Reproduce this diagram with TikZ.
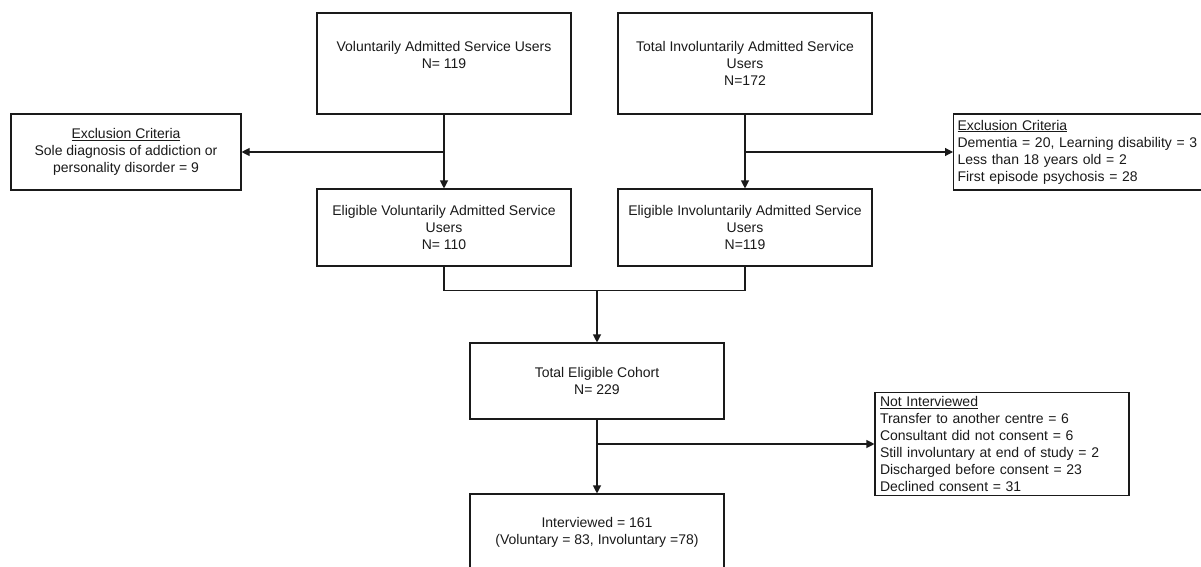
\documentclass[tikz,border=0pt]{standalone}
\usepackage{fontspec}
\setmainfont{Liberation Sans}
\usetikzlibrary{arrows.meta, positioning, calc}
\usepackage{xcolor}
\definecolor{cLine}{HTML}{1A1A1A}

\begin{document}
\begin{tikzpicture}[x=1pt, y=-1pt,
    box/.style={draw=cLine, line width=1.1pt, align=center, inner sep=3pt,
      text=cLine, font=\fontsize{14}{17}\selectfont, minimum width=254pt},
    listbox/.style={box, align=left, inner sep=4pt},
    arr/.style={draw=cLine, line width=1.1pt, -{Triangle[length=8pt, width=8pt]}},
    ln/.style={draw=cLine, line width=1.1pt}]
  \fill[white] (0,0) rectangle (1201,567);
  \useasboundingbox (0,0) rectangle (1201,567);
  \clip (0,0) rectangle (1201,567);

  % Admitted service users
  \node[box, minimum height=101pt] (vol) at (444,63.5)
    {Voluntarily Admitted Service Users\\N= 119\\~};
  \node[box, minimum height=101pt] (invol) at (745,63.5)
    {Total Involuntarily Admitted Service\\Users\\N=172};

  % Exclusions
  \node[box, minimum width=230pt, minimum height=76pt] (exclV) at (126,152)
    {\underline{Exclusion Criteria}\\Sole diagnosis of addiction or\\personality disorder = 9};
  \node[listbox, text width=250pt, minimum height=76pt, anchor=west] (exclI) at (953,152)
    {\underline{Exclusion Criteria}\\Dementia = 20, Learning disability = 3\\Less than 18 years old = 2\\First episode psychosis = 28};

  % Eligible users
  \node[box, minimum height=77pt] (eligV) at (444,227.5)
    {Eligible Voluntarily Admitted Service\\Users\\N= 110};
  \node[box, minimum height=77pt] (eligI) at (745,227.5)
    {Eligible Involuntarily Admitted Service\\Users\\N=119};

  % Cohort and interviews
  \node[box, minimum height=76pt] (cohort) at (597,381)
    {Total Eligible Cohort\\N= 229};
  \node[listbox, text width=244pt, minimum height=100pt] (notint) at (1002,444)
    {\underline{Not Interviewed}\\Transfer to another centre = 6\\Consultant did not consent = 6\\Still involuntary at end of study = 2\\Discharged before consent = 23\\Declined consent = 31};
  \node[box, minimum height=76pt] (interv) at (597,532)
    {Interviewed = 161\\(Voluntary = 83, Involuntary =78)};

  % Branches off each arm
  \foreach \a/\b/\x in {vol/eligV/exclV, invol/eligI/exclI, cohort/interv/notint} {
    \coordinate (j\a) at (\a.south |- \x.west);
    \draw[arr] (\a) -- (\b);
    \draw[arr] (j\a) -- (\x);
  }

  % Merge into the cohort
  \coordinate (mrg) at ($(cohort.north |- eligV.south) + (0,24)$);
  \draw[ln] (eligV.south) |- (mrg) -| (eligI.south);
  \draw[arr] (mrg) -- (cohort);
\end{tikzpicture}
\end{document}
